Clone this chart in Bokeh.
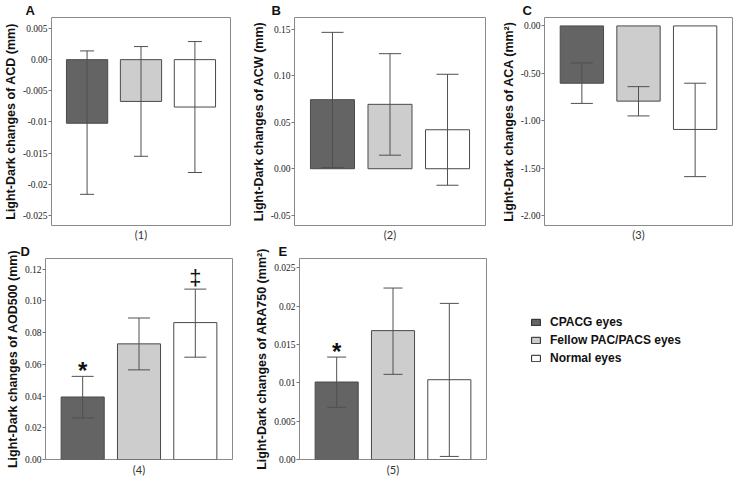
from bokeh.plotting import figure
from bokeh.layouts import row, column
from bokeh.models import (Range1d, FixedTicker, Whisker, TeeHead, ColumnDataSource,
                          Title, Legend, LegendItem)
from bokeh.core.properties import value
from bokeh.embed import file_html
from bokeh.resources import INLINE

# ---------------- data ----------------
groups = ["CPACG eyes", "Fellow PAC/PACS eyes", "Normal eyes"]
x_pos = [1, 2, 3]
bar_colors = ["#646464", "#cdcdcd", "#ffffff"]

acd_mean = [-0.0102, -0.0067, -0.0076]
acd_upper = [0.0014, 0.0021, 0.0029]
acd_lower = [-0.0216, -0.0155, -0.0181]
acd_ticks = [0.005, 0.0, -0.005, -0.01, -0.015, -0.02, -0.025]
acd_tick_labels = ["0.005", "0.00", "-0.005", "-0.01", "-0.015", "-0.02", "-0.025"]

acw_mean = [0.0744, 0.0694, 0.0420]
acw_upper = [0.147, 0.124, 0.1018]
acw_lower = [0.0014, 0.0146, -0.0178]
acw_ticks = [0.15, 0.10, 0.05, 0.0, -0.05]
acw_tick_labels = ["0.15", "0.10", "0.05", "0.00", "-0.05"]

aca_mean = [-0.605, -0.794, -1.093]
aca_upper = [-0.391, -0.641, -0.605]
aca_lower = [-0.818, -0.950, -1.591]
aca_ticks = [0.0, -0.5, -1.0, -1.5, -2.0]
aca_tick_labels = ["0.00", "-0.50", "-1.00", "-1.50", "-2.00"]

aod_mean = [0.0394, 0.0729, 0.0863]
aod_upper = [0.0524, 0.0892, 0.1074]
aod_lower = [0.0262, 0.0565, 0.0645]
aod_ticks = [0.0, 0.02, 0.04, 0.06, 0.08, 0.10, 0.12]
aod_tick_labels = ["0.00", "0.02", "0.04", "0.06", "0.08", "0.10", "0.12"]
aod_sig = ["*", "", "\u2021"]

ara_mean = [0.0101, 0.0168, 0.0104]
ara_upper = [0.01335, 0.02235, 0.02035]
ara_lower = [0.0068, 0.0111, 0.0004]
ara_ticks = [0.0, 0.005, 0.01, 0.015, 0.02, 0.025]
ara_tick_labels = ["0.00", "0.005", "0.01", "0.015", "0.02", "0.025"]
ara_sig = ["*", "", ""]

LINE = "#4a4a4a"
FRAME = "#8a8a8a"
WHISK = "#505050"


def panel(letter, xlabel, ylabel, mean, lower, upper, yr, ticks, tick_labels,
          width, height, top_b, right_b, bottom_b, below_standoff, cap, letter_dx, sig=None):
    p = figure(width=width, height=height, output_backend="svg", toolbar_location=None,
               x_range=Range1d(0.34, 3.66), y_range=Range1d(*yr), x_axis_location=None,
               min_border_left=45, min_border_right=right_b, min_border_top=top_b,
               min_border_bottom=bottom_b)
    p.title = Title(text=letter, align="left", offset=letter_dx, standoff=0,
                    text_font="Liberation Sans", text_font_style="bold",
                    text_font_size="13px", text_color="#111111", text_line_height=0.9)
    # group label under the frame
    p.add_layout(Title(text=xlabel, align="center", standoff=below_standoff, text_font="Lato",
                       text_font_style="normal", text_font_size="11px",
                       text_color="#333333"), "below")
    p.xgrid.visible = False
    p.ygrid.visible = False
    p.outline_line_color = FRAME
    p.outline_line_width = 1
    p.background_fill_color = "white"
    p.border_fill_color = "white"

    src = ColumnDataSource(dict(x=x_pos, top=mean, lower=lower, upper=upper,
                                color=bar_colors))
    p.vbar(x="x", top="top", bottom=0, width=0.765, fill_color="color",
           line_color=LINE, line_width=1, source=src)
    w = Whisker(source=src, base="x", upper="upper", lower="lower", level="overlay",
                line_color=WHISK, line_width=1,
                upper_head=TeeHead(size=cap, line_color=WHISK, line_width=1),
                lower_head=TeeHead(size=cap, line_color=WHISK, line_width=1))
    p.add_layout(w)

    ya = p.yaxis[0]
    ya.ticker = FixedTicker(ticks=ticks)
    ya.major_label_overrides = {t: l for t, l in zip(ticks, tick_labels)}
    ya.axis_label = ylabel
    ya.axis_label_text_font = "Liberation Sans"
    ya.axis_label_text_font_style = "bold"
    ya.axis_label_text_font_size = "12.5px"
    ya.axis_label_text_color = "#111111"
    ya.axis_label_standoff = 2
    ya.major_label_text_font = "Liberation Serif"
    ya.major_label_text_font_size = "9.5px"
    ya.major_label_text_color = "#222222"
    ya.major_label_standoff = 1
    ya.major_tick_out = 3
    ya.major_tick_in = 0
    ya.minor_tick_out = 0
    ya.major_tick_line_color = "#777777"
    ya.minor_tick_line_color = None
    ya.axis_line_color = None

    if sig is not None:
        sx = [x for x, s in zip(x_pos, sig) if s == "*"]
        sy = [u for u, s in zip(upper, sig) if s == "*"]
        st = [s for s in sig if s == "*"]
        if st:
            p.text(x=sx, y=sy, text=st, text_align="center", text_baseline="alphabetic",
                   y_offset=-6, text_font=value("Liberation Sans"), text_font_style="bold",
                   text_font_size="24px", text_color="#111111")
        dx = [x for x, s in zip(x_pos, sig) if s == "\u2021"]
        dy = [u for u, s in zip(upper, sig) if s == "\u2021"]
        dt = [s for s in sig if s == "\u2021"]
        if dt:
            p.text(x=dx, y=dy, text=dt, text_align="center", text_baseline="alphabetic",
                   y_offset=-12, text_font=value("Liberation Sans"),
                   text_font_size="22px", text_color="#111111")
    return p, src


H1, H2 = 241, 241

pA, _ = panel("A", "(1)", "Light-Dark changes of ACD (mm)", acd_mean, acd_lower, acd_upper,
              (-0.0266, 0.00676), acd_ticks, acd_tick_labels, 248, H1, 14, 18, 0, 1, 14, -26)
pB, _ = panel("B", "(2)", "Light-Dark changes of ACW (mm)", acw_mean, acw_lower, acw_upper,
              (-0.0612, 0.163), acw_ticks, acw_tick_labels, 250, H1, 14, 13, 0, 1, 22, -23)
pC, _ = panel("C", "(3)", "Light-Dark changes of ACA (mm\u00b2)", aca_mean, aca_lower, aca_upper,
              (-2.107, 0.089), aca_ticks, aca_tick_labels, 236, H1, 17, 2, 0, 1, 22, -22)
pD, _ = panel("D", "(4)", "Light-Dark changes of AOD500 (mm)", aod_mean, aod_lower, aod_upper,
              (0.0, 0.1267), aod_ticks, aod_tick_labels, 252, H2, 0, 20, 23, 2, 22, -25, aod_sig)
pE, srcE = panel("E", "(5)", "Light-Dark changes of ARA750 (mm\u00b2)", ara_mean, ara_lower,
                 ara_upper, (0.0, 0.0262), ara_ticks, ara_tick_labels, 250, H2, 0, 16, 23, 2, 19,
                 -21, ara_sig)

# legend panel: hidden copy of panel E's bars supplies the legend swatches
pL = figure(width=232, height=H2, output_backend="svg", toolbar_location=None, title=None,
            x_range=Range1d(0, 1), y_range=Range1d(0, 1), x_axis_type=None, y_axis_type=None,
            min_border=0, outline_line_color=None)
pL.background_fill_color = "white"
pL.border_fill_color = "white"
rL = pL.vbar(x="x", top="top", bottom=0, width=0.765, fill_color="color",
             line_color="#222222", line_width=1, source=srcE, visible=False)
items = [LegendItem(label=g, renderers=[rL], index=i) for i, g in enumerate(groups)]
leg = Legend(items=items, location=(28, 94), glyph_width=11, glyph_height=8,
             label_standoff=9, label_height=14, spacing=4, padding=0, margin=0,
             border_line_color=None, background_fill_alpha=0,
             inactive_fill_alpha=0,
             label_text_font="Liberation Sans", label_text_font_style="bold",
             label_text_font_size="12px", label_text_color="#111111")
pL.add_layout(leg)

layout = column(row(pA, pB, pC), row(pD, pE, pL))

with open("out.html", "w") as f:
    f.write(file_html(layout, INLINE))
